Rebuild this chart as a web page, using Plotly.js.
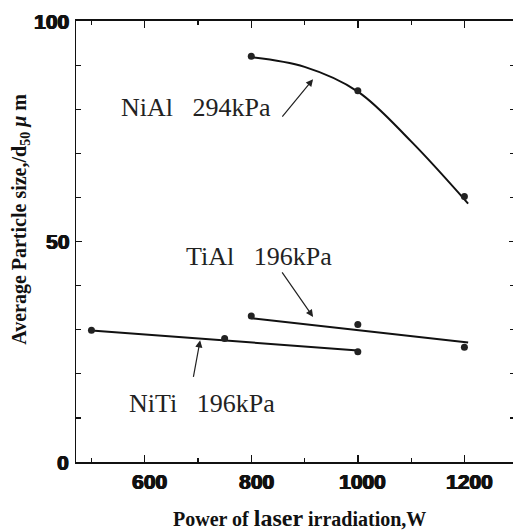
<!DOCTYPE html>
<html>
<head>
<meta charset="utf-8">
<script src="https://cdn.plot.ly/plotly-3.0.1.min.js"></script>
<style>
html,body{margin:0;padding:0;overflow:hidden;background:#fff;}
#chart{width:515px;height:531px;}
</style>
</head>
<body>
<div id="chart"></div>
<script>
// Measured points
const niAlPower = [800, 1000, 1200];
const niAlSize  = [92.0, 84.2, 60.2];
const tiAlPower = [800, 1000, 1200];
const tiAlSize  = [33.1, 31.2, 26.0];
const niTiPower = [500, 750, 1000];
const niTiSize  = [29.9, 28.0, 25.0];

// Fitted lines as drawn in the figure
const niAlFitPower = [800, 900, 1000, 1100, 1207];
const niAlFitSize  = [91.8, 89.6, 84.0, 72.7, 58.6];
const tiAlFitPower = [800, 1207];
const tiAlFitSize  = [32.6, 27.1];
const niTiFitPower = [500, 1000];
const niTiFitSize  = [29.8, 25.3];

// Tick labels
const xTickVals = [600, 800, 1000, 1200];
const xTickText = ['600', '800', '1000', '1200'];
const yTickVals = [0, 50, 100];
const yTickText = ['0', '50', '100'];

const labels = ["NiAl\u00a0\u00a0\u00a0294kPa", "TiAl\u00a0\u00a0\u00a0196kPa", "NiTi\u00a0\u00a0\u00a0196kPa"];

const lineStyle = {color: '#111', width: 2};
const markerStyle = {symbol: 'circle', size: 7, color: '#222'};

const traces = [
  {x: niAlFitPower, y: niAlFitSize, mode: 'lines', line: Object.assign({shape: 'spline', smoothing: 1}, lineStyle), hoverinfo: 'skip'},
  {x: tiAlFitPower, y: tiAlFitSize, mode: 'lines', line: lineStyle, hoverinfo: 'skip'},
  {x: niTiFitPower, y: niTiFitSize, mode: 'lines', line: lineStyle, hoverinfo: 'skip'},
  {x: niAlPower, y: niAlSize, mode: 'markers', marker: markerStyle},
  {x: tiAlPower, y: tiAlSize, mode: 'markers', marker: markerStyle},
  {x: niTiPower, y: niTiSize, mode: 'markers', marker: markerStyle}
];

const serif = 'Liberation Serif, Times New Roman, serif';
const sans = 'Liberation Sans, Arial, sans-serif';
const textFont = {family: serif, size: 26, color: '#222'};
const tickFont = {family: sans, size: 21, weight: 'bold', color: '#111',
                  shadow: '0.8px 0 0 #111, -0.5px 0 0 #111, 0 0.4px 0 #111'};
const arrowCommon = {text: '', showarrow: true, arrowhead: 2, arrowsize: 1.2, arrowwidth: 1.2, arrowcolor: '#222', xref: 'x', yref: 'y'};

// Bold tick labels, placed through the axis scales
const xTickLabels = xTickVals.map((v, i) => ({
  text: '<b>' + xTickText[i] + '</b>', x: v, xref: 'x', y: 0, yref: 'paper',
  xanchor: 'center', yanchor: 'middle', xshift: 5, yshift: -19, showarrow: false, font: tickFont
}));
const yTickLabels = yTickVals.map((v, i) => ({
  text: '<b>' + yTickText[i] + '</b>', x: 0, xref: 'paper', y: v, yref: 'y',
  xanchor: 'right', yanchor: 'middle', xshift: -5, showarrow: false, font: tickFont
}));

const layout = {
  width: 515, height: 531,
  margin: {l: 76, r: 0, t: 21, b: 69, autoexpand: false},
  paper_bgcolor: '#fff', plot_bgcolor: '#fff',
  showlegend: false,
  xaxis: {
    range: [471, 1295], tickmode: 'array', tickvals: xTickVals, showticklabels: false,
    ticks: 'inside', ticklen: 7, tickwidth: 1.5, tickcolor: '#111',
    minor: {dtick: 100, tick0: 0, ticks: 'inside', ticklen: 4, tickwidth: 1.2, tickcolor: '#111'},
    showline: true, linecolor: '#111', linewidth: 2, mirror: 'allticks',
    showgrid: false, zeroline: false
  },
  yaxis: {
    range: [0, 100], tickmode: 'array', tickvals: yTickVals, showticklabels: false,
    ticks: 'inside', ticklen: 6, tickwidth: 1.2, tickcolor: '#111',
    minor: {dtick: 10, tick0: 0, ticks: 'inside', ticklen: 5, tickwidth: 1.2, tickcolor: '#111'},
    showline: true, linecolor: '#111', linewidth: 1.5, mirror: 'allticks',
    showgrid: false, zeroline: false
  },
  annotations: [
    {text: labels[0], x: 696, y: 80.3, xref: 'x', yref: 'y', showarrow: false, font: textFont, xanchor: 'center', yanchor: 'middle'},
    {text: labels[1], x: 815, y: 46.7, xref: 'x', yref: 'y', showarrow: false, font: textFont, xanchor: 'center', yanchor: 'middle'},
    {text: labels[2], x: 708, y: 13.2, xref: 'x', yref: 'y', showarrow: false, font: textFont, xanchor: 'center', yanchor: 'middle'},
    Object.assign({x: 916, y: 86.8, ax: -32, ay: 39}, arrowCommon),
    Object.assign({x: 916, y: 32.9, ax: -32, ay: -46}, arrowCommon),
    Object.assign({x: 704, y: 27.6, ax: -7, ay: 38}, arrowCommon),
    {text: '<b>Power of <span style="font-size:24px">laser</span> irradiation,W</b>', xref: 'paper', yref: 'paper', x: 0.508, y: -0.128,
     xanchor: 'center', yanchor: 'middle', showarrow: false, font: {family: serif, size: 20, color: '#111'}},
    {text: '<b>Average Particle size,/d<sub>50</sub> <i>μ</i> m</b>', xref: 'paper', yref: 'paper', x: -0.128, y: 0.551,
     xanchor: 'center', yanchor: 'middle', textangle: -90, showarrow: false, font: {family: serif, size: 20, color: '#111'}}
  ].concat(xTickLabels, yTickLabels)
};

Plotly.newPlot('chart', traces, layout, {staticPlot: true, displayModeBar: false});
</script>
</body>
</html>
